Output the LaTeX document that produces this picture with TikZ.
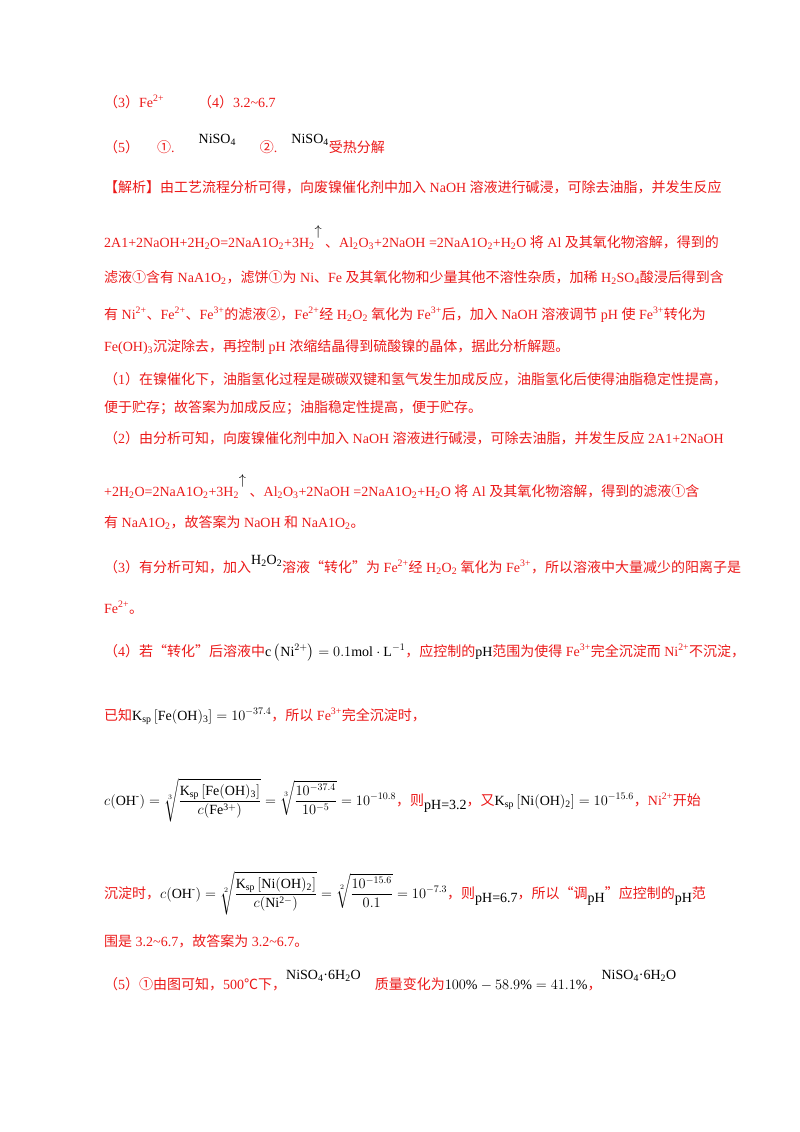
\documentclass[tikz,border=0pt]{standalone}
\usepackage{amsmath}
\usepackage{fontspec}
\setmainfont{Liberation Serif}
\newfontfamily\cjk{Noto Sans CJK SC}
\newfontfamily\latin{Liberation Serif}
\XeTeXinterchartokenstate=1
\newXeTeXintercharclass\cjkcls
\newcount\cc
\newcommand\setcls[2]{\cc=#1\relax\loop\XeTeXcharclass\cc=\cjkcls\ifnum\cc<#2\advance\cc by 1\repeat}
\setcls{"4E00}{"9FFF}
\setcls{"3000}{"303F}
\setcls{"FF00}{"FFEF}
\setcls{"2460}{"2473}
\setcls{"2103}{"2103}
\setcls{"201C}{"201D}
\XeTeXinterchartoks 0 \cjkcls = {\cjk}
\XeTeXinterchartoks 4095 \cjkcls = {\cjk}
\XeTeXinterchartoks \cjkcls 0 = {\latin}
\XeTeXinterchartoks \cjkcls 4095 = {\latin}
\definecolor{rd}{RGB}{235,25,25}
\newcommand\sbs[1]{\textsubscript{#1}}
\newcommand\sps[1]{\textsuperscript{#1}}
\newcommand\blk[1]{{\color{black}#1}}
\newcommand\up[2][7pt]{\raisebox{#1}{\color{black}#2}}
\begin{document}
\begin{tikzpicture}[x=1pt,y=1pt,
  ln/.style={anchor=base west,inner sep=0pt,text=rd,font=\fontsize{14}{17}\selectfont}]
\useasboundingbox (0,0) rectangle (800,-1132);
\node[ln] (l1) at (104,-107) {（3）Fe\sps{2+}\hspace{34pt}（4）3.2\textasciitilde6.7};
\node[ln] (l2) at (104,-152) {（5）\hspace{18pt}①.\hspace{24pt}\up[9pt]{NiSO\sbs{4}}\hspace{24pt}②.\hspace{14pt}\up[9pt]{NiSO\sbs{4}}受热分解};
\node[ln] (l3) at (104,-192) {【解析】由工艺流程分析可得，向废镍催化剂中加入 NaOH 溶液进行碱浸，可除去油脂，并发生反应};
\node[ln] (l4) at (104,-247) {2A1+2NaOH+2H\sbs{2}O=2NaA1O\sbs{2}+3H\sbs{2}\up[12pt]{$\uparrow$}\ 、Al\sbs{2}O\sbs{3}+2NaOH =2NaA1O\sbs{2}+H\sbs{2}O 将 Al 及其氧化物溶解，得到的};
\node[ln] (l5) at (104,-282) {滤液①含有 NaA1O\sbs{2}，滤饼①为 Ni、Fe 及其氧化物和少量其他不溶性杂质，加稀 H\sbs{2}SO\sbs{4}酸浸后得到含};
\node[ln] (l6) at (104,-319) {有 Ni\sps{2+}、Fe\sps{2+}、Fe\sps{3+}的滤液②，Fe\sps{2+}经 H\sbs{2}O\sbs{2} 氧化为 Fe\sps{3+}后，加入 NaOH 溶液调节 pH 使 Fe\sps{3+}转化为};
\node[ln] (l7) at (104,-351) {Fe(OH)\sbs{3}沉淀除去，再控制 pH 浓缩结晶得到硫酸镍的晶体，据此分析解题。};
\node[ln] (l8) at (104,-384) {（1）在镍催化下，油脂氢化过程是碳碳双键和氢气发生加成反应，油脂氢化后使得油脂稳定性提高，};
\node[ln] (l9) at (104,-412) {便于贮存；故答案为加成反应；油脂稳定性提高，便于贮存。};
\node[ln] (l10) at (104,-443) {（2）由分析可知，向废镍催化剂中加入 NaOH 溶液进行碱浸，可除去油脂，并发生反应 2A1+2NaOH};
\node[ln] (l11) at (104,-496) {+2H\sbs{2}O=2NaA1O\sbs{2}+3H\sbs{2}\up[12pt]{$\uparrow$}\ 、Al\sbs{2}O\sbs{3}+2NaOH =2NaA1O\sbs{2}+H\sbs{2}O 将 Al 及其氧化物溶解，得到的滤液①含};
\node[ln] (l12) at (104,-527) {有 NaA1O\sbs{2}，故答案为 NaOH 和 NaA1O\sbs{2}。};
\node[ln] (l13) at (104,-572) {（3）有分析可知，加入\up[8pt]{H\sbs{2}O\sbs{2}}溶液“转化”为 Fe\sps{2+}经 H\sbs{2}O\sbs{2} 氧化为 Fe\sps{3+}，所以溶液中大量减少的阳离子是};
\node[ln] (l14) at (104,-613) {Fe\sps{2+}。};
\node[ln] (l15) at (104,-656) {（4）若“转化”后溶液中\blk{$\mathrm{c}\left(\mathrm{Ni}^{2+}\right)=0.1\mathrm{mol}\cdot\mathrm{L}^{-1}$}，应控制的\blk{$\mathrm{pH}$}范围为使得 Fe\sps{3+}完全沉淀而 Ni\sps{2+}不沉淀，};
\node[ln] (l16) at (104,-720) {已知\blk{$\mathrm{K_{sp}}\left[\mathrm{Fe(OH)_3}\right]=10^{-37.4}$}，所以 Fe\sps{3+}完全沉淀时，};
\node[ln] (l17) at (104,-805) {\blk{$c(\mathrm{OH^{\text{-}}})=\sqrt[3]{\dfrac{\mathrm{K_{sp}}\left[\mathrm{Fe(OH)_3}\right]}{c(\mathrm{Fe^{3+}})}}=\sqrt[3]{\dfrac{10^{-37.4}}{10^{-5}}}=10^{-10.8}$}，则\raisebox{-4pt}{\blk{pH=3.2}}，又\blk{$\mathrm{K_{sp}}\left[\mathrm{Ni(OH)_2}\right]=10^{-15.6}$}，Ni\sps{2+}开始};
\node[ln] (l18) at (104,-898) {沉淀时，\blk{$c(\mathrm{OH^{\text{-}}})=\sqrt[2]{\dfrac{\mathrm{K_{sp}}\left[\mathrm{Ni(OH)_2}\right]}{c(\mathrm{Ni^{2-}})}}=\sqrt[2]{\dfrac{10^{-15.6}}{0.1}}=10^{-7.3}$}，则\raisebox{-4pt}{\blk{pH=6.7}}，所以“调\raisebox{-4pt}{\blk{pH}}”应控制的\raisebox{-4pt}{\blk{pH}}范};
\node[ln] (l19) at (104,-946) {围是 3.2\textasciitilde6.7，故答案为 3.2\textasciitilde6.7。};
\node[ln] (l20) at (104,-989) {（5）①由图可知，500℃下，\up[10pt]{NiSO\sbs{4}·6H\sbs{2}O}\hspace{14pt}质量变化为\blk{$100\%-58.9\%=41.1\%$}，\up[10pt]{NiSO\sbs{4}·6H\sbs{2}O}};
\end{tikzpicture}
\end{document}
